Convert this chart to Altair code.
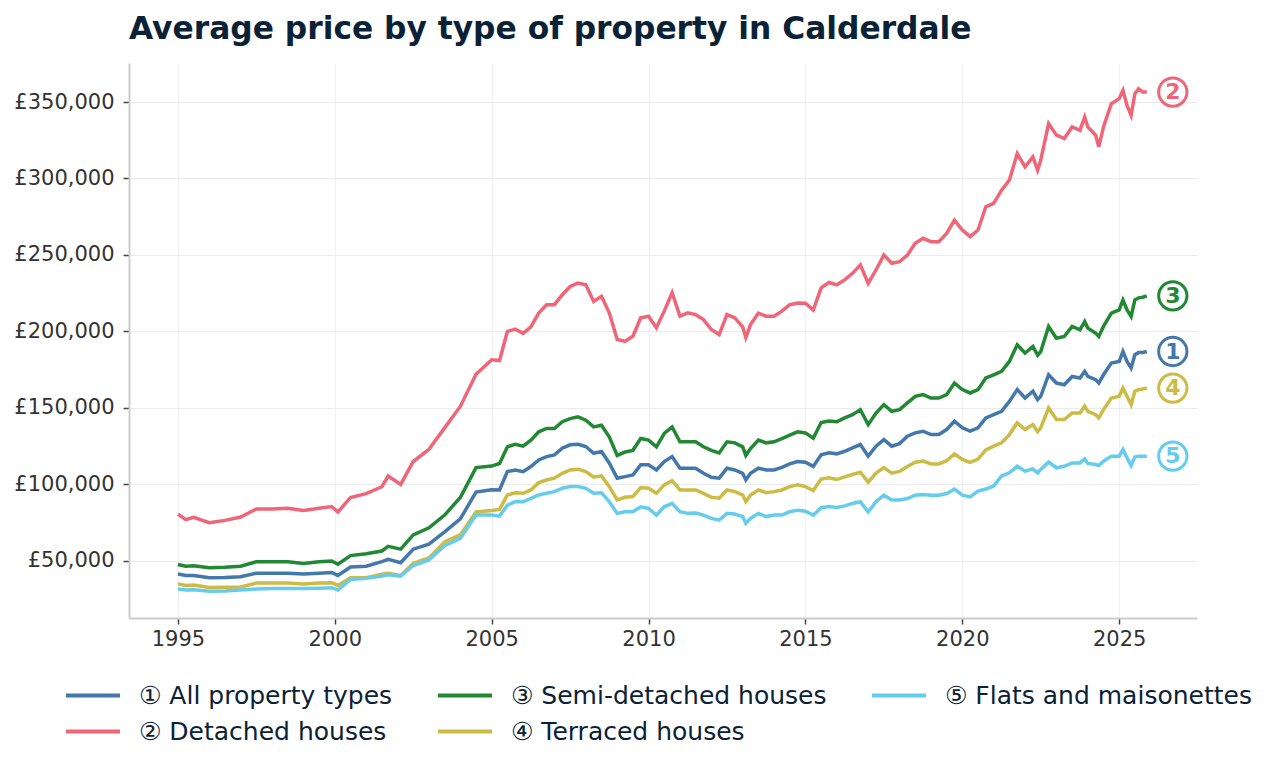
import altair as alt
import pandas as pd

# decimal years
t = [1995.0, 1995.25, 1995.5, 1996.0, 1996.5, 1997.0, 1997.5, 1998.0, 1998.5, 1999.0,
     1999.5, 1999.9, 2000.1, 2000.5, 2001.0, 2001.5, 2001.7, 2002.1, 2002.5, 2003.0,
     2003.5, 2004.0, 2004.5, 2005.0, 2005.25, 2005.5, 2005.75, 2006.0, 2006.25, 2006.5,
     2006.75, 2007.0, 2007.25, 2007.5, 2007.75, 2008.0, 2008.25, 2008.5, 2008.75, 2009.0,
     2009.25, 2009.5, 2009.75, 2010.0, 2010.25, 2010.5, 2010.75, 2011.0, 2011.25, 2011.5,
     2011.75, 2012.0, 2012.25, 2012.5, 2012.75, 2013.0, 2013.1, 2013.25, 2013.5, 2013.75,
     2014.0, 2014.25, 2014.5, 2014.75, 2015.0, 2015.25, 2015.5, 2015.75, 2016.0, 2016.25,
     2016.5, 2016.75, 2017.0, 2017.25, 2017.5, 2017.75, 2018.0, 2018.25, 2018.5, 2018.75,
     2019.0, 2019.25, 2019.5, 2019.75, 2020.0, 2020.25, 2020.5, 2020.75, 2021.0, 2021.25,
     2021.5, 2021.75, 2022.0, 2022.25, 2022.4, 2022.5, 2022.75, 2023.0, 2023.25, 2023.5,
     2023.75, 2023.9, 2024.0, 2024.25, 2024.35, 2024.5, 2024.75, 2025.0, 2025.12, 2025.25,
     2025.38, 2025.5, 2025.62, 2025.75, 2025.88]

# average prices, thousands of pounds
all_types = [41.4, 40.5, 40.5, 39.0, 39.2, 39.7, 42.0, 42.0, 42.0, 41.4,
             42.0, 42.5, 40.5, 46.0, 46.5, 49.5, 51.0, 48.8, 57.7, 61.0,
             69.0, 77.5, 95.0, 96.5, 96.4, 108.4, 109.5, 108.4, 111.7, 116.0,
             118.2, 119.3, 123.7, 125.9, 126.3, 124.8, 120.4, 121.5, 113.9, 104.1,
             105.1, 106.2, 112.8, 112.8, 109.5, 115.0, 118.2, 110.6, 110.6, 110.6,
             107.3, 104.7, 104.1, 110.6, 109.5, 107.3, 103.0, 107.3, 110.6, 109.5,
             109.5, 111.2, 113.4, 115.0, 114.5, 111.8, 119.4, 120.7, 120.0, 121.7,
             123.9, 126.1, 118.5, 125.0, 129.3, 125.0, 126.7, 131.5, 133.7, 134.8,
             132.6, 132.6, 135.9, 141.3, 137.0, 134.8, 137.0, 143.5, 145.6, 147.8,
             154.3, 162.0, 156.5, 160.9, 155.5, 157.6, 171.7, 166.3, 165.2, 170.6,
             169.6, 173.9, 170.6, 168.5, 166.3, 171.7, 179.3, 180.4, 186.9, 180.4,
             176.1, 184.8, 186.3, 186.3, 186.9]

detached = [80.6, 77.0, 78.5, 75.0, 76.5, 78.7, 84.0, 84.0, 84.5, 83.0,
            84.5, 85.5, 82.0, 91.5, 94.0, 98.5, 105.5, 100.0, 115.0, 123.0,
            137.0, 151.0, 172.0, 181.5, 181.0, 200.0, 201.5, 198.8, 203.0, 212.0,
            217.5, 217.5, 224.0, 229.4, 231.6, 230.5, 219.6, 223.0, 212.0, 194.7,
            193.6, 196.9, 208.9, 210.0, 202.4, 213.3, 225.3, 210.0, 212.2, 211.0,
            207.8, 201.3, 198.0, 211.0, 208.9, 203.0, 196.0, 204.5, 212.0, 210.0,
            210.0, 213.3, 217.5, 218.6, 218.5, 214.0, 228.5, 232.0, 230.5, 233.7,
            238.0, 243.5, 231.5, 240.2, 250.0, 244.6, 245.6, 250.0, 257.6, 260.9,
            258.7, 258.7, 264.1, 272.8, 266.3, 262.0, 266.3, 281.5, 283.7, 292.4,
            298.9, 316.3, 307.6, 314.1, 305.4, 312.0, 335.9, 328.3, 326.1, 333.7,
            331.5, 340.2, 333.7, 328.3, 320.7, 333.7, 348.9, 352.2, 357.6, 347.8,
            341.3, 355.4, 358.7, 356.5, 356.5]

semi_detached = [47.7, 46.5, 46.8, 45.6, 45.8, 46.5, 49.5, 49.5, 49.5, 48.4,
                 49.5, 50.0, 47.8, 53.5, 54.7, 56.5, 59.5, 57.7, 67.0, 71.7,
                 80.0, 91.5, 111.0, 112.0, 113.7, 124.6, 126.3, 125.0, 129.0, 134.4,
                 136.6, 136.6, 141.0, 143.0, 144.2, 142.0, 137.6, 138.7, 131.0, 119.0,
                 121.2, 122.3, 130.0, 129.0, 124.6, 133.3, 137.6, 127.9, 127.9, 127.9,
                 124.6, 122.3, 120.6, 127.9, 127.2, 124.6, 119.0, 123.5, 129.0, 127.2,
                 127.9, 130.0, 132.2, 134.4, 133.7, 130.2, 140.5, 141.4, 141.0, 143.5,
                 145.6, 148.9, 139.1, 146.7, 152.2, 147.8, 148.9, 153.3, 157.6, 158.7,
                 156.5, 156.5, 158.7, 166.3, 162.0, 159.8, 162.0, 169.6, 171.7, 173.9,
                 180.4, 191.3, 185.9, 190.2, 184.5, 186.9, 203.3, 195.6, 196.7, 203.3,
                 201.1, 206.5, 202.2, 198.9, 196.7, 203.3, 212.0, 214.1, 220.6, 214.1,
                 209.8, 220.6, 222.0, 222.4, 223.3]

terraced = [35.0, 34.0, 34.2, 32.7, 32.8, 33.0, 35.5, 35.5, 35.5, 35.0,
            35.5, 35.8, 34.0, 39.0, 39.0, 41.4, 42.0, 40.5, 48.4, 52.0,
            62.4, 67.0, 82.0, 83.0, 83.7, 93.1, 94.6, 94.2, 96.4, 101.2,
            102.9, 104.1, 107.3, 109.5, 110.0, 108.4, 104.7, 105.6, 98.6, 89.9,
            91.6, 92.1, 98.0, 97.5, 94.2, 99.7, 102.5, 96.4, 96.4, 96.4,
            94.2, 91.6, 91.0, 96.4, 95.3, 93.1, 88.8, 93.1, 96.4, 94.6,
            95.3, 96.4, 98.6, 99.7, 98.6, 96.0, 103.5, 104.3, 103.2, 105.0,
            106.5, 108.0, 101.5, 107.4, 111.0, 107.4, 108.5, 111.7, 114.5, 115.3,
            113.4, 113.4, 115.5, 120.0, 116.4, 114.5, 116.6, 122.6, 125.0, 127.2,
            132.6, 140.2, 135.9, 139.1, 134.5, 137.0, 150.0, 142.4, 142.4, 146.7,
            146.7, 151.1, 147.8, 145.6, 143.5, 148.9, 156.5, 157.6, 163.0, 157.6,
            152.2, 160.9, 162.0, 162.4, 163.0]

flats = [31.6, 31.0, 31.2, 30.2, 30.4, 31.0, 31.6, 32.0, 32.0, 32.0,
         32.2, 32.5, 31.0, 37.9, 38.6, 40.2, 41.0, 40.0, 47.0, 50.7,
         60.0, 64.7, 80.0, 80.0, 79.3, 86.5, 88.7, 88.7, 90.9, 93.1,
         94.2, 95.3, 97.5, 98.6, 98.6, 97.5, 94.2, 94.6, 88.7, 81.1,
         82.2, 82.2, 85.4, 84.3, 80.0, 85.4, 87.6, 82.2, 81.1, 81.3,
         80.0, 77.8, 76.7, 81.1, 80.7, 79.0, 74.6, 77.8, 81.1, 79.0,
         80.0, 80.0, 82.2, 83.2, 82.5, 80.0, 84.8, 85.6, 85.0, 86.0,
         87.6, 88.7, 82.0, 88.7, 93.0, 89.8, 89.8, 90.8, 93.0, 93.5,
         93.0, 93.0, 94.1, 97.0, 93.0, 91.9, 95.6, 97.0, 99.0, 105.5,
         107.6, 111.9, 108.7, 110.2, 107.5, 109.8, 114.6, 110.9, 111.9, 114.1,
         114.1, 116.7, 113.7, 113.0, 112.4, 115.2, 118.5, 118.5, 122.8, 117.4,
         112.4, 118.0, 118.5, 118.5, 118.5]

names = ["① All property types", "② Detached houses", "③ Semi-detached houses",
         "④ Terraced houses", "⑤ Flats and maisonettes"]
badges = ["1", "2", "3", "4", "5"]
colors = ["#4477AA", "#EE6677", "#228833", "#CCBB44", "#66CCEE"]
series = [all_types, detached, semi_detached, terraced, flats]

# legend is filled row by row; this order gives the column-wise look
legend_idx = [0, 2, 4, 1, 3]
dom = [names[i] for i in legend_idx]
rng = [colors[i] for i in legend_idx]

rows = []
for name, vals in zip(names, series):
    for tt, v in zip(t, vals):
        rows.append({"t": tt, "price": v * 1000, "type": name})
df = pd.DataFrame(rows)

ends = pd.DataFrame({
    "t": [t[-1]] * 5,
    "price": [s[-1] * 1000 for s in series],
    "type": names,
    "badge": badges,
})

FONT = "DejaVu Sans"
x = alt.X("t:Q",
          scale=alt.Scale(domain=[1993.44, 2027.48], nice=False, zero=False),
          axis=alt.Axis(values=[1995, 2000, 2005, 2010, 2015, 2020, 2025], format="d",
                        title=None, gridColor="#f0f0f0", gridWidth=1))
y = alt.Y("price:Q",
          scale=alt.Scale(domain=[12700, 375500], nice=False, zero=False),
          axis=alt.Axis(values=[50000, 100000, 150000, 200000, 250000, 300000, 350000],
                        labelExpr="'£' + format(datum.value, ',')",
                        title=None, gridColor="#ebebeb", gridWidth=1))
cscale = alt.Scale(domain=dom, range=rng)
color = alt.Color("type:N", scale=cscale,
                  legend=alt.Legend(title=None, orient="none", legendX=-65, legendY=615,
                                    direction="horizontal", columns=3,
                                    symbolType="stroke", symbolSize=2916,
                                    symbolStrokeWidth=4, labelOffset=17,
                                    clipHeight=35,
                                    columnPadding=43, rowPadding=1,
                                    labelFontSize=25, labelFont=FONT, labelLimit=600,
                                    labelColor="#0b2236", padding=0))

lines = alt.Chart(df).mark_line(strokeWidth=3.5).encode(x=x, y=y, color=color, detail="type:N")

rings = alt.Chart(ends).mark_point(shape="circle", size=800, strokeWidth=3, filled=False,
                                   xOffset=26, opacity=1).encode(
    x=x, y=y, color=alt.Color("type:N", scale=cscale, legend=None))

labels = alt.Chart(ends).mark_text(dx=26, fontSize=22, fontWeight="bold", font=FONT,
                                   align="center", baseline="middle").encode(
    x=x, y=y, text="badge:N",
    color=alt.Color("type:N", scale=cscale, legend=None))

chart = (lines + rings + labels).properties(
    width=1068, height=555,
    title=alt.TitleParams("Average price by type of property in Calderdale",
                          anchor="start", frame="group", fontSize=31.3, fontWeight="bold",
                          font=FONT, color="#0b2236", offset=18),
    autosize=alt.AutoSizeParams(type="none"),
    padding={"left": 121, "top": 55, "right": 76, "bottom": 140},
).configure_view(stroke=None).configure_axis(
    labelFont=FONT, labelFontSize=21, labelColor="#333333",
    domainColor="#cccccc", domainWidth=2, tickColor="#444444", tickWidth=1.5,
    tickSize=6,
).configure_axisY(labelPadding=9).configure_axisX(labelPadding=4)

chart.save("out.html", embed_options={"renderer": "svg", "actions": False})
